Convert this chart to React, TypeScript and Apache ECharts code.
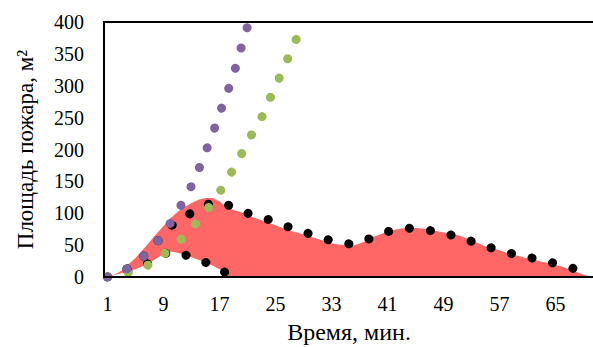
import React, { useEffect, useRef } from "react";
import * as echarts from "echarts";

const categories: string[] = Array.from({ length: 70 }, (_, i) => String(i + 1));

// Red filled area (fire area)
const redArea: number[] = [
  0, 4, 10, 20, 30, 42, 55, 68, 80, 92,
  102, 110, 116, 121, 124, 124, 119, 110, 105, 102,
  97, 93, 89, 85, 81, 77, 73, 70, 67, 63,
  60, 56, 53, 51, 50, 49, 52, 57, 63, 67,
  71, 74, 76, 77, 77, 76, 74, 72, 70, 68,
  66, 62, 57, 53, 48, 45, 42, 38, 35, 32,
  29, 27, 24, 22, 19, 16, 12, 8, 4, 0,
];

// Upper black dotted line
const blackUpper: number[] = [
  0, 5, 9, 14, 21, 31, 41, 54, 68, 80,
  85, 93, 101, 108, 113, 116, 118, 114, 109, 104,
  100, 97, 94, 90, 86, 82, 78, 74, 71, 67,
  63, 60, 57, 55, 53, 51, 54, 58, 63, 67,
  71, 74, 75.5, 76.5, 76, 75, 73, 71, 68, 66,
  64, 60, 56, 53, 49, 45, 42, 39, 36, 33,
  31, 29, 27, 24, 21, 18, 15, 12, 9, 5,
];

// Lower black dotted line (also the white lower edge of the red band)
const blackLower: (number | null)[] = [
  0, 3, 6, 9, 12, 17, 22, 29, 36, 40,
  38, 35, 31, 27, 23, 18, 12, 6,
];

// Purple dotted line
const purple: (number | null)[] = [
  0, 5, 9, 14, 21, 31, 41, 54, 68, 85,
  102, 123, 143, 168, 196, 224, 256, 286, 317, 356,
  393, 430,
];

// Green dotted line
const green: (number | null)[] = [
  0, 2, 4, 7, 10, 14, 20, 27, 35, 45,
  54, 64, 76, 89, 102, 117, 133, 150, 170, 190,
  212, 231, 250, 275, 300, 323, 349, 374,
];

const yTicks = { min: 0, max: 400, interval: 50 };

const FONT = "Liberation Serif";

function dotted(color: string, width: number) {
  return {
    color,
    width,
    type: [0.1, 21] as any,
    cap: "round" as const,
    join: "round" as const,
  };
}

export default function App() {
  const ref = useRef<HTMLDivElement>(null);
  useEffect(() => {
    if (!ref.current) return;
    const chart = echarts.init(ref.current, null, { renderer: "svg" });
    chart.setOption({
      animation: false,
      backgroundColor: "#fff",
      textStyle: { fontFamily: FONT },
      grid: {
        left: 104,
        right: -1,
        top: 22,
        bottom: 70,
        show: true,
        borderColor: "#000",
        borderWidth: 2,
        backgroundColor: "transparent",
        outerBoundsMode: "none",
      },
      xAxis: {
        type: "category",
        data: categories,
        boundaryGap: true,
        z: 10,
        axisLine: { show: true, lineStyle: { color: "#000", width: 2 } },
        axisTick: { show: false },
        axisLabel: {
          interval: 7,
          color: "#000",
          fontFamily: FONT,
          fontSize: 20,
          margin: 17,
        },
        name: "Время, мин.",
        nameLocation: "middle",
        nameGap: 43,
        nameTextStyle: { color: "#000", fontFamily: FONT, fontSize: 24, lineHeight: 24 },
        splitLine: { show: false },
      },
      yAxis: {
        type: "value",
        min: yTicks.min,
        max: yTicks.max,
        interval: yTicks.interval,
        z: 10,
        axisLine: { show: true, lineStyle: { color: "#000", width: 2 } },
        axisTick: { show: false },
        splitLine: { show: false },
        axisLabel: {
          color: "#000",
          fontFamily: FONT,
          fontSize: 20,
          margin: 20,
        },
        name: "Площадь пожара, м²",
        nameLocation: "middle",
        nameGap: 67,
        nameTextStyle: { color: "#000", fontFamily: FONT, fontSize: 23 },
      },
      series: [
        {
          type: "line",
          data: redArea,
          symbol: "none",
          lineStyle: { width: 0 },
          areaStyle: { color: "#FF6666", opacity: 1 },
          z: 1,
          silent: true,
        },
        {
          type: "line",
          data: blackLower,
          symbol: "none",
          lineStyle: { width: 0 },
          areaStyle: { color: "#FFFFFF", opacity: 1 },
          z: 2,
          silent: true,
        },
        {
          type: "line",
          data: blackLower,
          symbol: "none",
          lineStyle: dotted("#000000", 9),
          z: 3,
        },
        {
          type: "line",
          data: blackUpper,
          symbol: "none",
          lineStyle: dotted("#000000", 9),
          z: 3,
        },
        {
          type: "line",
          data: green,
          symbol: "none",
          lineStyle: dotted("#9BBB59", 9),
          z: 4,
        },
        {
          type: "line",
          data: purple,
          symbol: "none",
          lineStyle: dotted("#8064A2", 9),
          z: 5,
        },
      ],
    });
    return () => chart.dispose();
  }, []);
  return (
    <div
      ref={ref}
      style={{ position: "absolute", left: 0, top: 0, width: 593, height: 347 }}
    />
  );
}
